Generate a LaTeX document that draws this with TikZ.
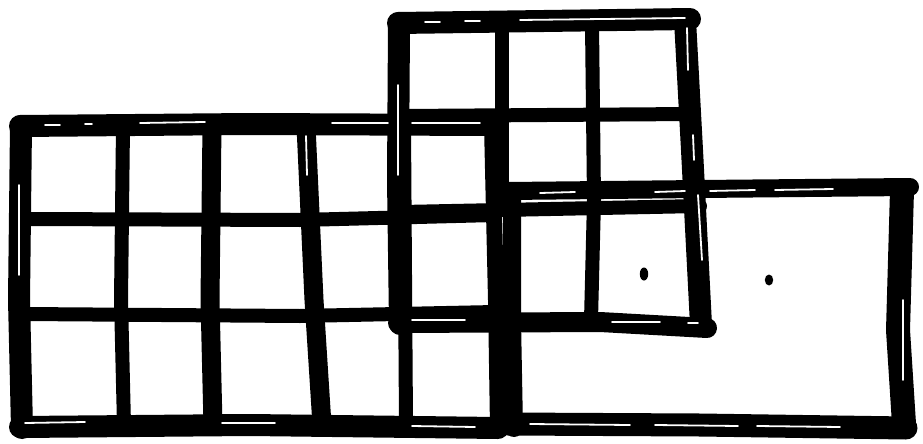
\documentclass[tikz,border=0pt]{standalone}
\begin{document}
\begin{tikzpicture}[x=1pt,y=-1pt,
  ink/.style={draw=black,line cap=round,line join=round},
  outline/.style={ink,line width=22pt},
  bar/.style={ink,line width=14pt},
  streak/.style={draw=white,line width=1.8pt,line cap=round}]
\useasboundingbox[fill=white] (0,0) rectangle (923,444);
% ---- left grid (5 x 3)
\draw[bar] (24,219) -- (300,220) -- (495,215);
\draw[bar] (24,314) -- (300,316) -- (495,312);
\draw[bar] (123,126) -- (121,300) -- (124,425);
\draw[ink,line width=19pt] (212,126) -- (210,300) -- (213,425);
\draw[ink,line width=19pt] (306,126) -- (314,300) -- (322,425);
\draw[bar] (404,126) -- (406,425);
\draw[outline] (20,126) -- (250,124) -- (490,125);
\draw[outline] (21,126) -- (19,300) -- (22,428);
\draw[outline] (20,427) -- (250,425) -- (498,428);
\draw[ink,line width=16pt] (492,125) -- (496,300) -- (498,428);
% ---- upper grid (3 x 3)
\draw[bar] (402,116) -- (692,114);
\draw[bar] (402,212) -- (600,208) -- (700,206);
\draw[bar] (502,24) -- (502,205);
\draw[bar] (592,24) -- (594,200) -- (591,320);
\draw[outline] (398,23) -- (690,19);
\draw[outline] (399,23) -- (398,180) -- (400,324);
\draw[outline] (685,20) -- (692,150) -- (701,325);
\draw[ink,line width=20pt] (398,323) -- (600,322) -- (707,328);
% ---- right rectangle
\draw[ink,line width=18pt] (508,191) -- (700,189) -- (910,187);
\draw[ink,line width=18pt] (512,192) -- (512,320) -- (514,428);
\draw[ink,line width=24pt] (902,190) -- (898,330) -- (904,424);
\draw[ink,line width=23pt] (508,424) -- (700,425) -- (906,428);
% ---- dots
\fill (644,274) ellipse (4.2 and 6.5);
\fill (769,280) ellipse (4.2 and 5.5);
% ---- pen streaks
\draw[streak] (45,125) -- (60,125) (85,124) -- (92,124) (140,123) -- (205,122);
\draw[streak] (19,185) -- (19,275);
\draw[streak] (25,423) -- (85,422) (222,423) -- (275,423);
\draw[streak] (306,136) -- (307,175);
\draw[streak] (425,22) -- (440,22) (465,21) -- (480,21) (520,20) -- (685,18);
\draw[streak] (398,85) -- (398,175);
\draw[streak] (332,123) -- (388,123) (412,123) -- (480,123);
\draw[streak] (412,320) -- (465,320) (412,426) -- (475,427);
\draw[streak] (687,28) -- (688,70) (693,135) -- (694,160);
\draw[streak] (698,195) -- (702,260);
\draw[streak] (540,193) -- (575,192) (655,192) -- (685,191) (710,191) -- (755,190) (775,190) -- (833,189);
\draw[streak] (530,424) -- (630,425) (655,425) -- (738,426) (757,426) -- (840,427);
\draw[streak] (612,322) -- (660,322) (688,323) -- (698,323);
\draw[streak] (903,300) -- (903,380);
\end{tikzpicture}
\end{document}
